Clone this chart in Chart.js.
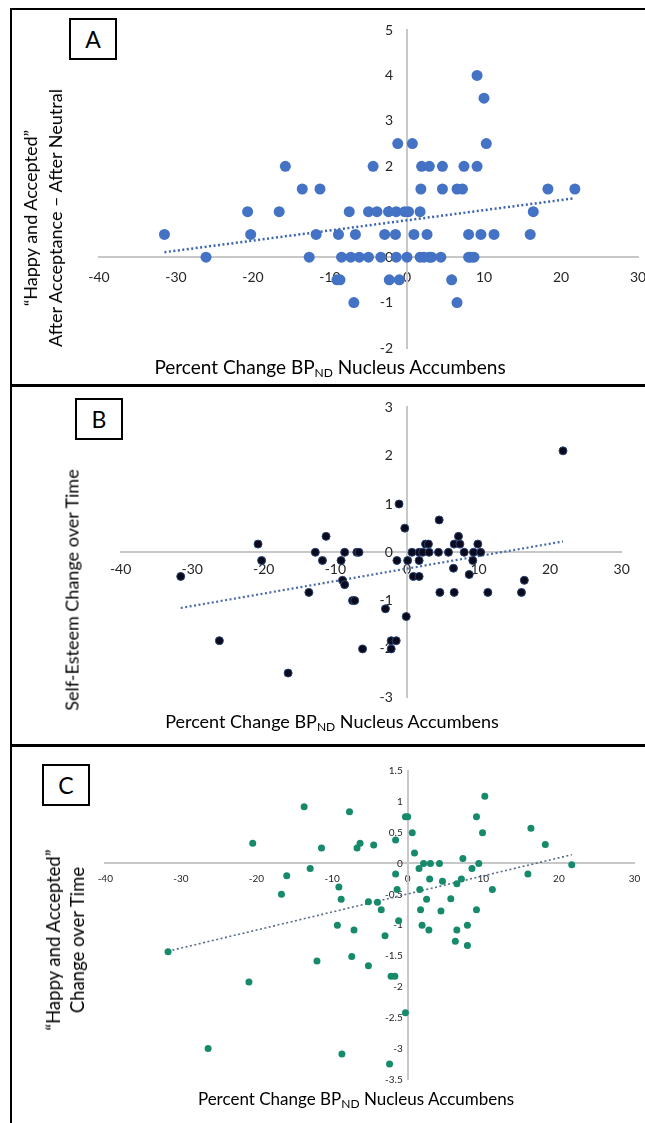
<!DOCTYPE html>
<html>
<head>
<meta charset="utf-8">
<script src="https://cdn.jsdelivr.net/npm/chart.js@4.4.1/dist/chart.umd.min.js"></script>
<style>
  body { margin: 0; width: 645px; height: 1123px; overflow: hidden; position: relative; background: #fff; font-family: Lato, "Open Sans", sans-serif; color: #000; }
  canvas { position: absolute; left: 0; }
  .frame { position: absolute; left: 10px; top: 8px; width: 700px; height: 1200px; border-left: 2px solid #000; border-top: 2px solid #000; }
  .sep { position: absolute; left: 10px; width: 700px; height: 3px; background: #000; }
  .tag { position: absolute; width: 48px; height: 42px; border: 2px solid #000; box-sizing: border-box; font-size: 23px; text-align: center; line-height: 38px; background: #fff; }
  .xt { position: absolute; width: 500px; text-align: center; font-size: 18px; white-space: nowrap; }
  .xt sub { font-size: 12px; vertical-align: -3px; line-height: 0; }
  .yt { position: absolute; transform: translate(-50%, -50%) rotate(-90deg); text-align: center; white-space: nowrap; font-size: 18px; line-height: 25px; }
</style>
</head>
<body>
<div class="frame"></div>
<div class="sep" style="top:384px"></div>
<div class="sep" style="top:744px"></div>

<canvas id="chartA" width="700" height="385" style="top:0"></canvas>
<canvas id="chartB" width="700" height="356" style="top:388px"></canvas>
<canvas id="chartC" width="700" height="375" style="top:748px"></canvas>

<div class="tag" style="left:69px;top:18px">A</div>
<div class="tag" style="left:75px;top:398px">B</div>
<div class="tag" style="left:42px;top:764px">C</div>

<div class="yt" style="left:43px;top:218px">“Happy and Accepted”<br>After Acceptance – After Neutral</div>
<div class="yt" style="left:72px;top:590px">Self-Esteem Change over Time</div>
<div class="yt" style="left:65px;top:940px;font-size:18.5px;line-height:24px">“Happy and Accepted”<br>Change over Time</div>

<div class="xt" style="left:80px;top:355px;font-size:19px">Percent Change BP<sub>ND</sub> Nucleus Accumbens</div>
<div class="xt" style="left:82px;top:710px">Percent Change BP<sub>ND</sub> Nucleus Accumbens</div>
<div class="xt" style="left:106px;top:1088px;font-size:17px">Percent Change BP<sub>ND</sub> Nucleus Accumbens</div>

<script>
// x ticks shared by all three panels
const xTicks = [-40, -30, -20, -10, 0, 10, 20, 30];

// panel A: "Happy and Accepted" after acceptance - after neutral
const aX = [9.1, 10.0, -1.2, 0.7, 10.3,
  -15.8, -4.4, 1.9, 2.9, 4.6, 7.4, 9.1,
  -13.6, -11.3, 1.8, 4.6, 6.5, 7.2, 18.3, 21.8,
  -20.7, -16.6, -7.5, -5.0, -3.9, -2.4, -1.4, -0.3, 0.2, 1.7, 16.4,
  -31.5, -20.3, -11.8, -8.9, -6.7, -2.9, -1.5, 0.9, 2.6, 8.0, 9.6, 11.3, 16.0,
  -26.1, -12.7, -8.5, -7.3, -6.2, -5.0, -3.4, -1.4, 0, 1.7, 2.2, 2.9, 3.2, 4.4, 8.0, 8.3, 8.7,
  -9.1, -8.7, -2.3, -1.0, 5.8,
  -6.9, 6.5];
const aY = [4, 3.5, 2.5, 2.5, 2.5,
  2, 2, 2, 2, 2, 2, 2,
  1.5, 1.5, 1.5, 1.5, 1.5, 1.5, 1.5, 1.5,
  1, 1, 1, 1, 1, 1, 1, 1, 1, 1, 1,
  0.5, 0.5, 0.5, 0.5, 0.5, 0.5, 0.5, 0.5, 0.5, 0.5, 0.5, 0.5, 0.5,
  0, 0, 0, 0, 0, 0, 0, 0, 0, 0, 0, 0, 0, 0, 0, 0, 0,
  -0.5, -0.5, -0.5, -0.5, -0.5,
  -1, -1];

// panel B: self-esteem change over time
const bX = [-20.8, -11.3, -12.8, -8.7, -7.0, -6.7, -20.3, -11.8, -9.2, -31.6, -9.0, -8.7, -13.7, -7.6, -7.3, -26.2, -6.2, -16.6,
  21.8, -1.1, -0.3, 4.5, 7.2, 2.6, 3.0, 6.6, 7.4, 9.9,
  0.7, 1.7, 2.2, 3.1, 4.4, 5.8, 8.0, 9.3, 10.3,
  -1.4, 0.1, 1.7, 9.2, 6.5, 0.9, 1.7, 8.7, 16.4,
  4.6, 6.6, 11.3, 16.0, -3.0, -0.1, -2.2, -1.5, -2.2];
const bY = [0.17, 0.33, 0, 0, 0, 0, -0.17, -0.17, -0.17, -0.5, -0.58, -0.67, -0.83, -1.0, -1.0, -1.83, -2.0, -2.5,
  2.1, 1.0, 0.5, 0.67, 0.33, 0.17, 0.17, 0.17, 0.17, 0.17,
  0, 0, 0, 0, 0, 0, 0, 0, 0,
  -0.17, -0.17, -0.17, -0.17, -0.33, -0.5, -0.5, -0.46, -0.58,
  -0.83, -0.83, -0.83, -0.83, -1.17, -1.33, -1.83, -1.83, -2.0];

// panel C: "Happy and Accepted" change over time
const cX = [-13.7, -7.7, -20.5, -11.4, -6.3, -6.7, -12.9, -16.0, -9.1, -16.7, -8.8, -5.2, -9.3, -7.1,
  -31.7, -12.0, -7.4, -5.2, -21.0, -26.4, -8.7,
  -4.5, -1.6, -0.3, 0.0, 0.6, 0.9, 9.1, 10.2, 9.9, 16.3, 18.2, 7.3,
  2.1, 3.0, 4.2, 9.4, 21.7, 1.5, 8.5, -1.6, 15.9, 2.9, 7.1, 4.6, 6.5,
  -1.4, 1.6, 11.2, 2.5, 5.7, -4.0, -3.5, 1.7, 4.4, 9.1, -1.2, 1.9, 7.9, 2.8, 6.5,
  -3.0, 6.3, 7.9, -2.2, -1.7, -0.3, -2.4];
const cY = [0.92, 0.84, 0.33, 0.25, 0.33, 0.25, -0.08, -0.2, -0.38, -0.5, -0.58, -0.62, -1.0, -1.08,
  -1.43, -1.58, -1.51, -1.66, -1.92, -3.0, -3.09,
  0.3, 0.38, 0.76, 0.76, 0.5, 0.17, 0.76, 1.09, 0.5, 0.57, 0.31, 0.08,
  0, 0, 0, 0, -0.02, -0.08, -0.08, -0.17, -0.17, -0.25, -0.25, -0.29, -0.33,
  -0.42, -0.42, -0.42, -0.58, -0.57, -0.63, -0.75, -0.75, -0.77, -0.75, -0.93, -1.0, -1.0, -1.08, -1.08,
  -1.17, -1.26, -1.33, -1.83, -1.83, -2.42, -3.25];

const FONT = 'Lato, "Open Sans", sans-serif';

function pts(xs, ys) { return xs.map((x, i) => ({ x: x, y: ys[i] })); }

// least squares trend, drawn from min x to max x like Excel
function trend(xs, ys) {
  const n = xs.length;
  const mx = xs.reduce((s, v) => s + v, 0) / n;
  const my = ys.reduce((s, v) => s + v, 0) / n;
  let sxy = 0, sxx = 0;
  for (let i = 0; i < n; i++) { sxy += (xs[i] - mx) * (ys[i] - my); sxx += (xs[i] - mx) * (xs[i] - mx); }
  const b = sxy / sxx, a = my - b * mx;
  const lo = Math.min(...xs), hi = Math.max(...xs);
  return [{ x: lo, y: a + b * lo }, { x: hi, y: a + b * hi }];
}

function makeChart(id, xs, ys, o) {
  return new Chart(document.getElementById(id), {
    type: 'scatter',
    data: {
      datasets: [
        { data: pts(xs, ys), backgroundColor: o.color, borderColor: o.edge, borderWidth: o.edgeW, pointRadius: o.r, pointHoverRadius: o.r },
        { type: 'line', data: trend(xs, ys), borderColor: o.trendColor, borderWidth: o.trendW, borderDash: [2, 2.5], pointRadius: 0, fill: false }
      ]
    },
    options: {
      responsive: false,
      animation: false,
      devicePixelRatio: 1,
      layout: { padding: o.pad },
      plugins: { legend: { display: false }, tooltip: { enabled: false } },
      scales: {
        x: {
          type: 'linear', min: -40, max: 30, position: { y: 0 },
          afterBuildTicks: s => { s.ticks = xTicks.map(v => ({ value: v })); },
          grid: { display: false, drawTicks: false },
          border: { color: '#c8c8c8', width: 2 },
          ticks: { padding: o.xPad, color: '#262626', font: { family: FONT, size: o.tickSize } }
        },
        y: {
          type: 'linear', min: o.yMin, max: o.yMax, position: { x: 0 },
          grid: { display: false, drawTicks: false },
          border: { color: '#c8c8c8', width: 2 },
          // a centred axis ignores ticks.padding, so the gap is kept with trailing spaces
          ticks: { stepSize: o.yStep, color: '#262626', font: { family: FONT, size: o.tickSize },
                   callback: v => v + o.gap }
        }
      }
    }
  });
}

makeChart('chartA', aX, aY, {
  color: '#4472c4', edge: '#4472c4', edgeW: 0, r: 5.5, trendColor: '#3d64b0', trendW: 2.5,
  pad: { left: 99, right: 62, top: 30, bottom: 37 },
  yMin: -2, yMax: 5, yStep: 1, tickSize: 14, xPad: 12, gap: '\u2002\u2002'
});
makeChart('chartB', bX, bY, {
  color: '#0a0a1c', edge: '#2a4273', edgeW: 1, r: 4, trendColor: '#4a6aa8', trendW: 2.2,
  pad: { left: 120.6, right: 78.3, top: 19.4, bottom: 46.8 },
  yMin: -3, yMax: 3, yStep: 1, tickSize: 14, xPad: 9, gap: '\u2002\u2002'
});
makeChart('chartC', cX, cY, {
  color: '#168a6b', edge: '#168a6b', edgeW: 0, r: 3.5, trendColor: '#586b88', trendW: 1.6,
  pad: { left: 105.3, right: 65.5, top: 23, bottom: 43.7 },
  yMin: -3.5, yMax: 1.5, yStep: 0.5, tickSize: 10, xPad: 9, gap: '\u2002'
});
</script>
</body>
</html>
